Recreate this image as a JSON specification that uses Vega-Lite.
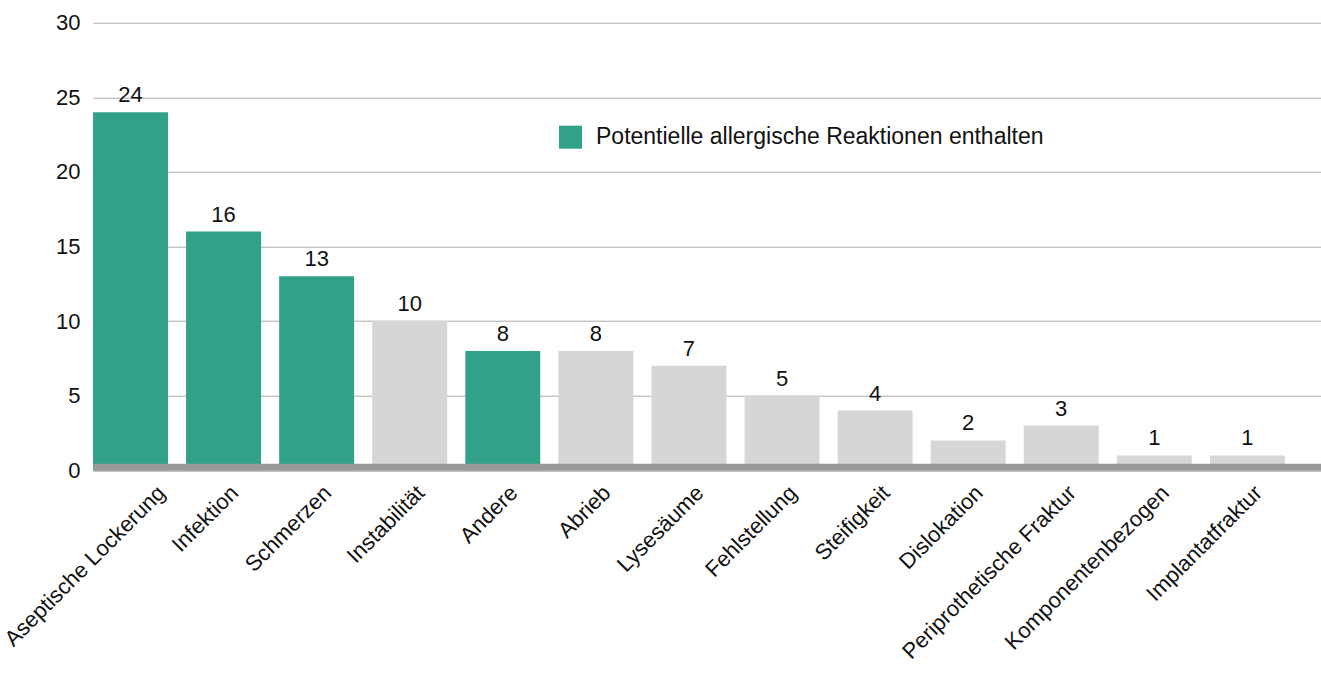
{
  "$schema": "https://vega.github.io/schema/vega-lite/v6.json",
  "autosize": {"type": "none"},
  "padding": {"left": 93, "top": 22.7, "right": 0, "bottom": 206.7},
  "width": 1228,
  "height": 447.6,
  "background": "white",
  "config": {
    "view": {"stroke": null},
    "font": "Liberation Sans",
    "text": {"font": "Liberation Sans"}
  },
  "data": {
    "values": [
      {"grund": "Aseptische Lockerung", "anzahl": 24, "gruppe": "Potentielle allergische Reaktionen enthalten"},
      {"grund": "Infektion", "anzahl": 16, "gruppe": "Potentielle allergische Reaktionen enthalten"},
      {"grund": "Schmerzen", "anzahl": 13, "gruppe": "Potentielle allergische Reaktionen enthalten"},
      {"grund": "Instabilität", "anzahl": 10, "gruppe": "Sonstige"},
      {"grund": "Andere", "anzahl": 8, "gruppe": "Potentielle allergische Reaktionen enthalten"},
      {"grund": "Abrieb", "anzahl": 8, "gruppe": "Sonstige"},
      {"grund": "Lysesäume", "anzahl": 7, "gruppe": "Sonstige"},
      {"grund": "Fehlstellung", "anzahl": 5, "gruppe": "Sonstige"},
      {"grund": "Steifigkeit", "anzahl": 4, "gruppe": "Sonstige"},
      {"grund": "Dislokation", "anzahl": 2, "gruppe": "Sonstige"},
      {"grund": "Periprothetische Fraktur", "anzahl": 3, "gruppe": "Sonstige"},
      {"grund": "Komponentenbezogen", "anzahl": 1, "gruppe": "Sonstige"},
      {"grund": "Implantatfraktur", "anzahl": 1, "gruppe": "Sonstige"}
    ]
  },
  "encoding": {
    "x": {
      "field": "grund",
      "type": "nominal",
      "sort": null,
      "scale": {"paddingInner": 0.1945, "paddingOuter": 0.194, "align": 0},
      "axis": {
        "title": null,
        "labelAngle": -45,
        "labelFontSize": 22,
        "labelFont": "Liberation Sans",
        "labelColor": "#111111",
        "labelPadding": 15,
        "labelOffset": {"condition": {"test": "datum.value === 'Aseptische Lockerung'", "value": 24}, "value": 4},
        "labelLimit": 0,
        "ticks": false,
        "domain": true,
        "domainColor": "#999999",
        "domainWidth": 7,
        "offset": -3.5,
        "zindex": 1,
        "grid": false
      }
    },
    "y": {
      "field": "anzahl",
      "type": "quantitative",
      "scale": {"domain": [0, 30], "nice": false},
      "axis": {
        "title": null,
        "values": [0, 5, 10, 15, 20, 25, 30],
        "labelFontSize": 22,
        "labelFont": "Liberation Sans",
        "labelColor": "#111111",
        "labelPadding": 13,
        "ticks": false,
        "domain": false,
        "grid": true,
        "gridColor": "#aaaaaa",
        "gridWidth": 1,
        "zindex": 0
      }
    }
  },
  "layer": [
    {
      "mark": {"type": "bar"},
      "encoding": {
        "color": {
          "field": "gruppe",
          "type": "nominal",
          "scale": {
            "domain": ["Potentielle allergische Reaktionen enthalten", "Sonstige"],
            "range": ["#32a189", "#d6d6d6"]
          },
          "legend": {
            "values": ["Potentielle allergische Reaktionen enthalten"],
            "title": null,
            "orient": "none",
            "legendX": 466,
            "legendY": 103,
            "padding": 0,
            "symbolType": "square",
            "symbolSize": 529,
            "symbolStrokeWidth": 0,
            "symbolOpacity": 1,
            "labelFontSize": 23,
            "labelFont": "Liberation Sans",
            "labelColor": "#111111",
            "labelOffset": 14,
            "labelLimit": 0
          }
        }
      }
    },
    {
      "mark": {"type": "text", "baseline": "alphabetic", "dy": -10, "fontSize": 22, "font": "Liberation Sans", "color": "#111111"},
      "encoding": {
        "text": {"field": "anzahl", "type": "quantitative"}
      }
    }
  ]
}
